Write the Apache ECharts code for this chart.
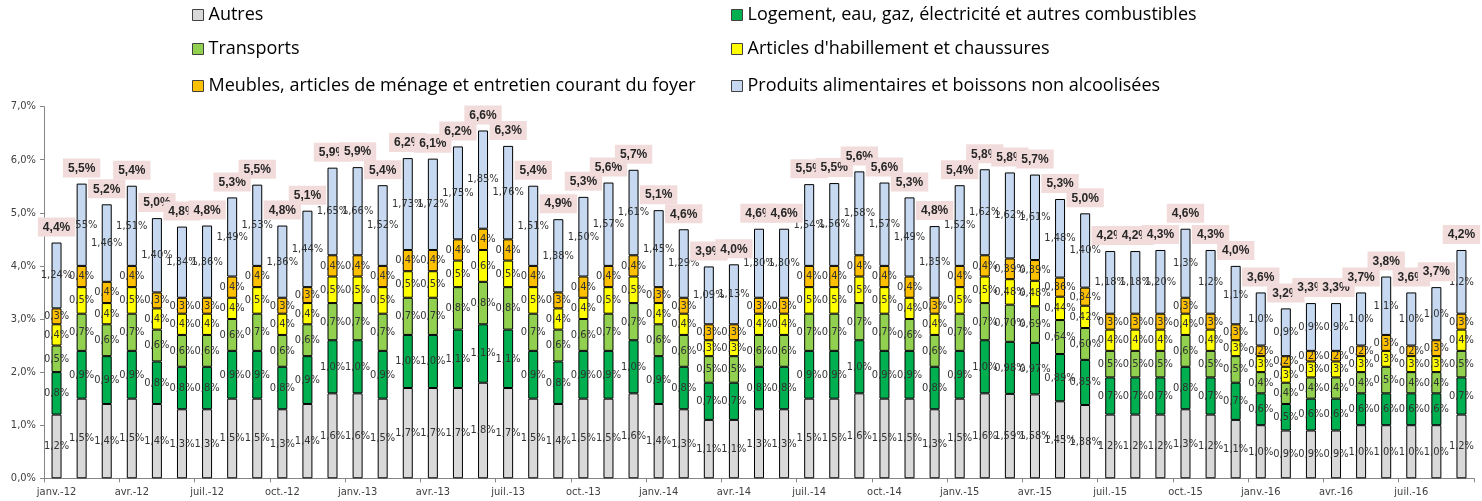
<!DOCTYPE html>
<html>
<head>
<meta charset="utf-8">
<script src="https://cdn.jsdelivr.net/npm/echarts@6/dist/echarts.min.js"></script>
<style>html,body{margin:0;padding:0;background:#fff}#c{width:1482px;height:501px}</style>
</head>
<body>
<div id="c"></div>
<script>
const categories = [
  'janv.-12','févr.-12','mars-12','avr.-12','mai-12','juin-12','juil.-12','août-12','sept.-12','oct.-12','nov.-12','déc.-12',
  'janv.-13','févr.-13','mars-13','avr.-13','mai-13','juin-13','juil.-13','août-13','sept.-13','oct.-13','nov.-13','déc.-13',
  'janv.-14','févr.-14','mars-14','avr.-14','mai-14','juin-14','juil.-14','août-14','sept.-14','oct.-14','nov.-14','déc.-14',
  'janv.-15','févr.-15','mars-15','avr.-15','mai-15','juin-15','juil.-15','août-15','sept.-15','oct.-15','nov.-15','déc.-15',
  'janv.-16','févr.-16','mars-16','avr.-16','mai-16','juin-16','juil.-16','août-16','sept.-16'
];
const autres = ['1,2','1,5','1,4','1,5','1,4','1,3','1,3','1,5','1,5','1,3','1,4','1,6','1,6',
  '1,5','1,7','1,7','1,7','1,8','1,7','1,5','1,4','1,5','1,5','1,6','1,4','1,3','1,1','1,1',
  '1,3','1,3','1,5','1,5','1,6','1,5','1,5','1,3','1,5','1,6','1,59','1,58','1,45','1,38',
  '1,2','1,2','1,2','1,3','1,2','1,1','1,0','0,9','0,9','0,9','1,0','1,0','1,0','1,0','1,2'];
const logement = ['0,8','0,9','0,9','0,9','0,8','0,8','0,8','0,9','0,9','0,8','0,9','1,0','1,0',
  '0,9','1,0','1,0','1,1','1,1','1,1','0,9','0,8','0,9','0,9','1,0','0,9','0,8','0,7','0,7',
  '0,8','0,8','0,9','0,9','1,0','0,9','0,9','0,8','0,9','1,0','0,98','0,97','0,89','0,85',
  '0,7','0,7','0,7','0,8','0,7','0,7','0,6','0,5','0,6','0,6','0,6','0,6','0,6','0,6','0,7'];
const transports = ['0,5','0,7','0,6','0,7','0,6','0,6','0,6','0,6','0,7','0,6','0,6','0,7','0,7',
  '0,7','0,7','0,7','0,8','0,8','0,8','0,7','0,6','0,6','0,7','0,7','0,6','0,6','0,5','0,5',
  '0,6','0,6','0,7','0,7','0,7','0,7','0,6','0,6','0,7','0,7','0,70','0,69','0,64','0,60',
  '0,5','0,5','0,5','0,6','0,5','0,5','0,4','0,4','0,4','0,4','0,4','0,5','0,4','0,4','0,5'];
const habillement = ['0,4','0,5','0,4','0,5','0,4','0,4','0,4','0,4','0,5','0,4','0,4','0,5','0,5',
  '0,5','0,5','0,5','0,5','0,6','0,5','0,5','0,4','0,4','0,5','0,5','0,4','0,4','0,3','0,3',
  '0,4','0,4','0,5','0,5','0,5','0,5','0,4','0,4','0,5','0,5','0,48','0,48','0,44','0,42',
  '0,4','0,4','0,4','0,4','0,4','0,3','0,3','0,3','0,3','0,3','0,3','0,3','0,3','0,3','0,4'];
const meubles = ['0,3','0,4','0,4','0,4','0,3','0,3','0,3','0,4','0,4','0,3','0,3','0,4','0,4',
  '0,4','0,4','0,4','0,4','0,4','0,4','0,4','0,3','0,4','0,4','0,4','0,3','0,3','0,3','0,3',
  '0,3','0,3','0,4','0,4','0,4','0,4','0,4','0,3','0,4','0,4','0,39','0,39','0,36','0,34',
  '0,3','0,3','0,3','0,3','0,3','0,3','0,2','0,2','0,2','0,2','0,2','0,3','0,2','0,3','0,3'];
const produits = ['1,24','1,55','1,46','1,51','1,40','1,34','1,36','1,49','1,53','1,36','1,44','1,65','1,66',
  '1,52','1,73','1,72','1,75','1,85','1,76','1,51','1,38','1,50','1,57','1,61','1,45','1,29','1,09','1,13',
  '1,30','1,30','1,54','1,56','1,58','1,57','1,49','1,35','1,52','1,62','1,62','1,61','1,48','1,40',
  '1,18','1,18','1,20','1,3','1,2','1,1','1,0','0,9','0,9','0,9','1,0','1,1','1,0','1,0','1,2'];
const totals = ['4,4','5,5','5,2','5,4','5,0','4,8','4,8','5,3','5,5','4,8','5,1','5,9','5,9',
  '5,4','6,2','6,1','6,2','6,6','6,3','5,4','4,9','5,3','5,6','5,7','5,1','4,6','3,9','4,0',
  '4,6','4,6','5,5','5,5','5,6','5,6','5,3','4,8','5,4','5,8','5,8','5,7','5,3','5,0',
  '4,2','4,2','4,3','4,6','4,3','4,0','3,6','3,2','3,3','3,3','3,7','3,8','3,6','3,7','4,2'];
const yTicks = [0, 1, 2, 3, 4, 5, 6, 7];

const seriesDefs = [
  {name: 'Autres', data: autres, color: '#d9d9d9'},
  {name: 'Logement, eau, gaz, électricité et autres combustibles', data: logement, color: '#00b050'},
  {name: 'Transports', data: transports, color: '#92d050'},
  {name: "Articles d'habillement et chaussures", data: habillement, color: '#ffff00'},
  {name: 'Meubles, articles de ménage et entretien courant du foyer', data: meubles, color: '#ffc000'},
  {name: 'Produits alimentaires et boissons non alcoolisées', data: produits, color: '#c6d9f1'}
];
const num = s => parseFloat(s.replace(',', '.'));
const smallFont = "'DejaVu Sans Condensed', 'DejaVu Sans', sans-serif";

const series = seriesDefs.map(d => ({
  name: d.name,
  type: 'bar',
  stack: 'total',
  barWidth: 10,
  data: d.data.map(num),
  itemStyle: {color: d.color, borderColor: '#000', borderWidth: 1},
  label: {
    show: true, position: 'inside',
    fontFamily: smallFont, fontSize: 11, color: '#333',
    formatter: p => d.data[p.dataIndex] + '%'
  },
  emphasis: {disabled: true}
}));
series.push({
  name: 'total',
  type: 'bar',
  stack: 'total',
  barWidth: 10,
  data: totals.map(() => 0),
  itemStyle: {color: 'transparent', borderWidth: 0},
  label: {
    show: true, position: 'top', distance: 6,
    fontFamily: 'Liberation Sans', fontWeight: 'bold', fontSize: 12, color: '#262626',
    backgroundColor: '#f2dcdb', padding: [4, 5, 3, 5],
    formatter: p => totals[p.dataIndex] + '%'
  },
  emphasis: {disabled: true}
});

// legend layout: two columns, three rows
const legendPos = [
  {left: 192, top: 5}, {left: 731, top: 5},
  {left: 192, top: 39}, {left: 731, top: 39},
  {left: 192, top: 76}, {left: 731, top: 76}
];
const legends = seriesDefs.map((d, i) => ({
  data: [d.name],
  left: legendPos[i].left, top: legendPos[i].top,
  padding: 0,
  icon: 'rect', itemWidth: 11, itemHeight: 11, itemGap: 6,
  itemStyle: {borderColor: '#404040', borderWidth: 1},
  textStyle: {fontFamily: 'Open Sans', fontSize: 18, color: '#000', lineHeight: 20},
  selectedMode: false
}));

const chart = echarts.init(document.getElementById('c'), null, {renderer: 'canvas'});
chart.setOption({
  animation: false,
  backgroundColor: '#fff',
  legend: legends,
  grid: {left: 44, right: 8, top: 106.6, bottom: 22.7, containLabel: false},
  xAxis: {
    type: 'category',
    data: categories,
    boundaryGap: true,
    axisLine: {show: true, lineStyle: {color: '#868686', width: 1}},
    axisTick: {show: true, interval: 2, length: 4, lineStyle: {color: '#868686'}},
    axisLabel: {interval: 2, fontFamily: smallFont, fontSize: 11, color: '#404040', margin: 8}
  },
  yAxis: {
    type: 'value',
    min: yTicks[0], max: yTicks[yTicks.length - 1], interval: 1,
    axisLine: {show: true, lineStyle: {color: '#868686', width: 1}},
    axisTick: {show: true, length: 4, lineStyle: {color: '#868686'}},
    splitLine: {show: false},
    axisLabel: {fontFamily: smallFont, fontSize: 11, color: '#404040', margin: 8,
      formatter: v => v.toFixed(1).replace('.', ',') + '%'}
  },
  series: series
});
</script>
</body>
</html>
